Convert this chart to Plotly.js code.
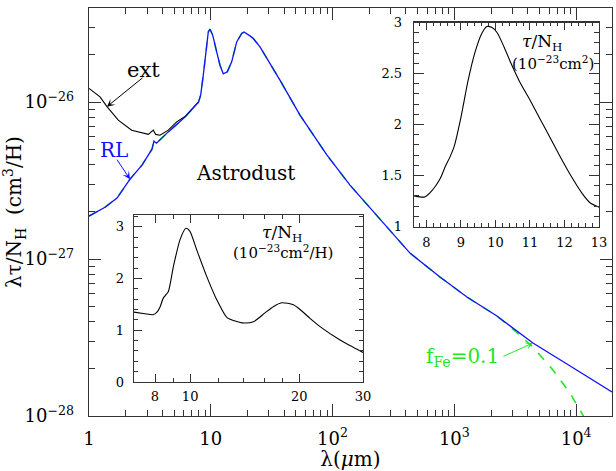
<!DOCTYPE html>
<html>
<head>
<meta charset="utf-8">
<script src="https://cdn.plot.ly/plotly-3.0.1.min.js"></script>
<style>
html, body { margin: 0; padding: 0; background: #fff; }
#plot { width: 616px; height: 471px; }
</style>
</head>
<body>
<div id="plot"></div>
<script>
"use strict";

//DATA
// main panel: lambda in micron, lambda*tau/N_H in cm^3/H
const lamRL = [1.00, 1.353, 1.698, 2.171, 2.724, 3.290, 3.417, 3.583, 4.452, 6.141, 7.925, 8.26, 8.68, 9.13, 9.54, 9.85,
	10.37, 11.18, 11.90, 12.66, 13.66, 14.85, 16.32, 17.93, 18.74, 20.98, 22.34, 25.35, 36.98, 54.0, 90, 139, 210,
	307, 432, 762, 1269, 2237, 4419, 8406, 19680];
const tauRL = [1.88e-27, 2.14e-27, 2.45e-27, 3.23e-27, 3.97e-27, 5.02e-27, 5.64e-27, 5.48e-27, 6.44e-27, 8.03e-27,
	1.00e-26, 1.108e-26, 1.486e-26, 2.208e-26, 2.804e-26, 2.917e-26, 2.672e-26, 2.091e-26, 1.72e-26, 1.515e-26,
	1.56e-26, 1.806e-26, 2.42e-26, 2.74e-26, 2.80e-26, 2.645e-26, 2.545e-26, 2.25e-26, 1.381e-26, 8.26e-27,
	4.59e-27, 2.96e-27, 2.07e-27, 1.486e-27, 1.092e-27, 7.68e-28, 5.73e-28, 4.335e-28, 2.917e-28, 2.144e-28, 1.422e-28];

const lamFe = [1.00, 1.353, 1.698, 2.171, 2.724, 3.290, 3.417, 3.583, 4.452, 6.141, 7.925, 8.26, 8.68, 9.13, 9.54, 9.85,
	10.37, 11.18, 11.90, 12.66, 13.66, 14.85, 16.32, 17.93, 18.74, 20.98, 22.34, 25.35, 36.98, 54.0, 90, 139, 210,
	307, 432, 762, 1269, 2237, 3145, 4419, 6449, 8892, 10740, 12030];
const tauFe = [1.88e-27, 2.14e-27, 2.45e-27, 3.23e-27, 3.97e-27, 5.02e-27, 5.64e-27, 5.48e-27, 6.44e-27, 8.03e-27,
	1.00e-26, 1.108e-26, 1.486e-26, 2.208e-26, 2.804e-26, 2.917e-26, 2.672e-26, 2.091e-26, 1.72e-26, 1.515e-26,
	1.56e-26, 1.806e-26, 2.42e-26, 2.74e-26, 2.80e-26, 2.645e-26, 2.545e-26, 2.25e-26, 1.381e-26, 8.26e-27,
	4.59e-27, 2.96e-27, 2.07e-27, 1.486e-27, 1.092e-27, 7.68e-28, 5.73e-28, 4.335e-28, 3.48e-28, 2.75e-28,
	1.963e-28, 1.401e-28, 1.092e-28, 9.4e-29];

const lamExt = [1.00, 1.231, 1.405, 1.740, 2.242, 3.069, 3.373, 3.528, 3.827, 4.478, 5.248, 6.141, 7.925];
const tauExt = [1.223e-26, 1.081e-26, 9.36e-27, 7.68e-27, 6.63e-27, 6.23e-27, 6.63e-27, 6.23e-27, 6.16e-27,
	6.63e-27, 7.49e-27, 8.1e-27, 1.005e-26];

// upper inset: tau/N_H (1e-23 cm^2), 7.6-13 micron
const lamIn1 = [7.64, 7.8, 7.95, 8.1, 8.25, 8.4, 8.55, 8.68, 8.8, 9.0, 9.2, 9.4, 9.6, 9.75, 9.9, 10.05, 10.25,
	10.45, 10.7, 11.0, 11.3, 11.6, 11.9, 12.2, 12.5, 12.75, 13.0];
const tauIn1 = [1.30, 1.29, 1.29, 1.33, 1.39, 1.47, 1.59, 1.68, 1.78, 2.07, 2.42, 2.70, 2.89, 2.96, 2.95, 2.90, 2.76,
	2.60, 2.42, 2.24, 2.05, 1.86, 1.67, 1.49, 1.33, 1.23, 1.19];

// lower inset: tau/N_H (1e-23 cm^2/H), 7-30 micron
const lamIn2 = [7.0, 7.5, 7.9, 8.1, 8.26, 8.43, 8.71, 8.99, 9.38, 9.74, 9.99, 10.43, 11.11, 11.84, 12.62, 13.3,
	14.08, 15.01, 16.09, 17.0, 17.89, 18.6, 19.27, 20.11, 21.42, 22.84, 25.93, 30.0];
const tauIn2 = [1.35, 1.32, 1.30, 1.35, 1.45, 1.62, 1.75, 2.23, 2.75, 2.97, 2.91, 2.55, 2.04, 1.59, 1.25, 1.18,
	1.14, 1.17, 1.335, 1.46, 1.53, 1.52, 1.49, 1.40, 1.23, 1.07, 0.81, 0.57];

// tick labels
const mainXTickVals = [1, 10, 100, 1000, 10000];
const mainXTickText = ['1', '10', '10<sup>2</sup>', '10<sup>3</sup>', '10<sup>4</sup>'];
const mainYTickVals = [1e-28, 1e-27, 1e-26];
const mainYTickText = ['10<sup>−28</sup>', '10<sup>−27</sup>', '10<sup>−26</sup>'];
const in2TickVals = [8, 10, 20, 30];
const in2TickText = ['8', '10', '20', '30'];
const in2MinorVals = [9, 12, 14, 16, 18];

//STYLE
const FONT = 'DejaVu Serif, Liberation Serif, serif';
const AXCOL = '#333';
const BLUE = '#1010ff';
const GREEN = '#22e622';

// plot area in pixels, used to place text in paper units
const L = 89, R = 612, T = 8, B = 416;
function px(x){ return (x - L)/(R - L); }
function py(y){ return (B - y)/(B - T); }

function logMinor(lo, hi){
	const v = [];
	for(let k = lo; k <= hi; k++){
		for(let d = 2; d <= 9; d++) v.push(d*Math.pow(10, k));
	}
	return v;
}

function baseAxis(extra){
	return Object.assign({
		ticks: 'inside', tickcolor: AXCOL, tickwidth: 1,
		showline: true, linecolor: AXCOL, linewidth: 1.3, mirror: 'ticks',
		showgrid: false, zeroline: false,
		tickfont: {family: FONT, size: 13, color: '#000'}
	}, extra);
}

//TRACES
const line = (x, y, xa, ya, color, width, dash, shape) => ({
	x: x, y: y, xaxis: xa, yaxis: ya, type: 'scatter', mode: 'lines',
	line: {color: color, width: width, dash: dash || 'solid', shape: shape || 'linear', smoothing: 0.6},
	hoverinfo: 'skip', showlegend: false
});

const data = [
	line(lamFe, tauFe, 'x', 'y', GREEN, 1.6, 'dash'),
	line(lamExt, tauExt, 'x', 'y', '#000', 1.1),
	line(lamRL, tauRL, 'x', 'y', BLUE, 1.3),
	line(lamIn1, tauIn1, 'x2', 'y2', '#000', 1.1, 'solid', 'spline'),
	line(lamIn2, tauIn2, 'x3', 'y3', '#000', 1.1, 'solid', 'spline')
];

//ANNOTATIONS
const txt = (x, y, text, size, color) => ({
	xref: 'paper', yref: 'paper', x: px(x), y: py(y), text: text, showarrow: false,
	xanchor: 'center', yanchor: 'middle', font: {family: FONT, size: size, color: color || '#000'}
});

const arrow = (lam, tau, ax, ay, color) => ({
	xref: 'x', yref: 'y', x: Math.log10(lam), y: Math.log10(tau), text: '', showarrow: true,
	ax: ax, ay: ay, arrowhead: 3, arrowsize: 1.3, arrowwidth: 1, arrowcolor: color
});

const annotations = [
	txt(143, 70, 'ext', 21),
	txt(113.5, 150, 'RL', 20, BLUE),
	txt(245, 173, 'Astrodust', 20),
	txt(462, 357, 'f<sub>Fe</sub>=0.1', 20, GREEN),
	txt(542, 42, '<i>τ</i>/N<sub>H</sub>', 17),
	txt(553, 63, '(10<sup>−23</sup>cm<sup>2</sup>)', 15),
	txt(282, 233, '<i>τ</i>/N<sub>H</sub>', 17),
	txt(283, 252, '(10<sup>−23</sup>cm<sup>2</sup>/H)', 15),
	arrow(lamExt[2], tauExt[2], 37, -30, '#000'),
	arrow(lamRL[3], tauRL[3], -14, -21, BLUE),
	arrow(lamRL[38], tauRL[38], -31, 14, GREEN)
];

//LAYOUT
const layout = {
	width: 616, height: 471,
	margin: {l: L, r: 616 - R, t: T, b: 471 - B, pad: 0},
	paper_bgcolor: '#fff', plot_bgcolor: 'rgba(0,0,0,0)',
	showlegend: false,
	font: {family: FONT, color: '#000'},
	xaxis: baseAxis({
		type: 'log', range: [0, Math.log10(19700)], domain: [0, 1], anchor: 'y',
		tickmode: 'array', tickvals: mainXTickVals, ticktext: mainXTickText,
		ticklen: 12, ticklabelstandoff: 6,
		tickfont: {family: FONT, size: 18, color: '#000'},
		minor: {tickmode: 'array', tickvals: logMinor(0, 4), ticks: 'inside', ticklen: 6, tickcolor: AXCOL},
		title: {text: 'λ(<i>μ</i>m)', font: {family: FONT, size: 20}, standoff: 0}
	}),
	yaxis: baseAxis({
		type: 'log', range: [-28, -25.4], domain: [0, 1], anchor: 'x',
		tickmode: 'array', tickvals: mainYTickVals, ticktext: mainYTickText,
		ticklen: 12, ticklabelstandoff: 10,
		tickfont: {family: FONT, size: 18, color: '#000'},
		minor: {tickmode: 'array', tickvals: logMinor(-28, -26), ticks: 'inside', ticklen: 6, tickcolor: AXCOL},
		title: {text: 'λτ/N<sub>H</sub>  (cm<sup>3</sup>/H)', font: {family: FONT, size: 20}, standoff: 4}
	}),
	xaxis2: baseAxis({
		domain: [px(414), px(599)], anchor: 'y2', range: [7.64, 13],
		tick0: 0, dtick: 1, ticklen: 7, ticklabelstandoff: 4,
		minor: {dtick: 0.2, ticks: 'inside', ticklen: 3.5, tickcolor: AXCOL}
	}),
	yaxis2: baseAxis({
		domain: [py(226.5), py(22.5)], anchor: 'x2', range: [1, 3],
		tick0: 0, dtick: 0.5, ticklen: 10, ticklabelstandoff: 8,
		minor: {dtick: 0.1, ticks: 'inside', ticklen: 5, tickcolor: AXCOL}
	}),
	xaxis3: baseAxis({
		type: 'log', domain: [px(134), px(363)], anchor: 'y3', range: [Math.log10(7), Math.log10(30)],
		tickmode: 'array', tickvals: in2TickVals, ticktext: in2TickText, ticklen: 8, ticklabelstandoff: 2,
		minor: {tickmode: 'array', tickvals: in2MinorVals, ticks: 'inside', ticklen: 4, tickcolor: AXCOL}
	}),
	yaxis3: baseAxis({
		domain: [py(382), py(215)], anchor: 'x3', range: [0, 3.226],
		tick0: 0, dtick: 1, ticklen: 8, ticklabelstandoff: 6,
		minor: {dtick: 0.2, ticks: 'inside', ticklen: 4, tickcolor: AXCOL}
	}),
	annotations: annotations
};

Plotly.newPlot('plot', data, layout, {staticPlot: true, displayModeBar: false});
</script>
</body>
</html>
